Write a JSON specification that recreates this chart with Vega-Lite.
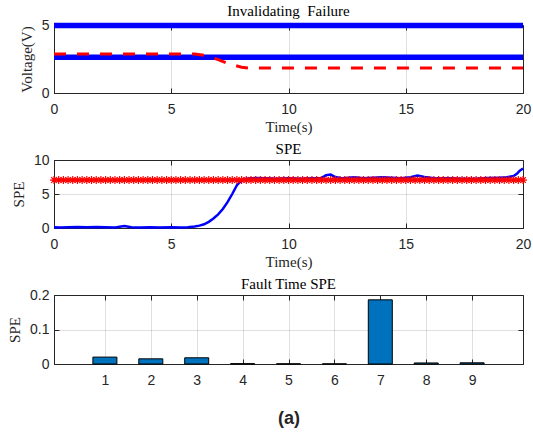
{
  "$schema": "https://vega.github.io/schema/vega-lite/v6.json",
  "background": "white",
  "padding": {"left": 7, "top": 3, "right": 2, "bottom": 2},
  "bounds": "flush",
  "spacing": 67,
  "datasets": {
    "volt_blue": [
      {"t": 0, "v": 4.96, "s": "a"}, {"t": 20, "v": 4.96, "s": "a"},
      {"t": 0, "v": 2.62, "s": "b"}, {"t": 20, "v": 2.62, "s": "b"}
    ],
    "volt_red": [
      {"t": 0, "v": 2.87}, {"t": 6.0, "v": 2.87}, {"t": 6.5, "v": 2.75}, {"t": 7.0, "v": 2.45},
      {"t": 7.5, "v": 2.12}, {"t": 8.0, "v": 1.9}, {"t": 8.3, "v": 1.84}, {"t": 20, "v": 1.84}
    ],
    "spe_blue": [
      {"t": 0, "v": 0.12}, {"t": 0.3, "v": 0.08}, {"t": 0.6, "v": 0.12}, {"t": 1.0, "v": 0.15},
      {"t": 1.4, "v": 0.1}, {"t": 1.8, "v": 0.13}, {"t": 2.2, "v": 0.1}, {"t": 2.6, "v": 0.08},
      {"t": 3.0, "v": 0.28}, {"t": 3.3, "v": 0.1}, {"t": 3.7, "v": 0.07}, {"t": 4.1, "v": 0.1},
      {"t": 4.5, "v": 0.08}, {"t": 5.0, "v": 0.1}, {"t": 5.4, "v": 0.08}, {"t": 5.7, "v": 0.12},
      {"t": 6.0, "v": 0.22}, {"t": 6.2, "v": 0.35}, {"t": 6.4, "v": 0.55}, {"t": 6.6, "v": 0.9},
      {"t": 6.8, "v": 1.4}, {"t": 7.0, "v": 2.0}, {"t": 7.2, "v": 2.8}, {"t": 7.4, "v": 3.8},
      {"t": 7.6, "v": 5.0}, {"t": 7.8, "v": 6.3}, {"t": 8.0, "v": 7.0}, {"t": 8.2, "v": 7.25},
      {"t": 8.6, "v": 7.35}, {"t": 9.0, "v": 7.3}, {"t": 9.5, "v": 7.25}, {"t": 10.0, "v": 7.3},
      {"t": 10.5, "v": 7.25}, {"t": 11.0, "v": 7.3}, {"t": 11.4, "v": 7.35}, {"t": 11.6, "v": 7.75},
      {"t": 11.8, "v": 7.85}, {"t": 12.0, "v": 7.5}, {"t": 12.3, "v": 7.3}, {"t": 12.8, "v": 7.45},
      {"t": 13.2, "v": 7.3}, {"t": 13.6, "v": 7.4}, {"t": 14.0, "v": 7.45}, {"t": 14.4, "v": 7.4},
      {"t": 14.8, "v": 7.3}, {"t": 15.2, "v": 7.45}, {"t": 15.5, "v": 7.7}, {"t": 15.8, "v": 7.5},
      {"t": 16.2, "v": 7.3}, {"t": 16.8, "v": 7.3}, {"t": 17.4, "v": 7.25}, {"t": 18.0, "v": 7.25},
      {"t": 18.5, "v": 7.35}, {"t": 19.0, "v": 7.4}, {"t": 19.3, "v": 7.45}, {"t": 19.6, "v": 7.65},
      {"t": 19.75, "v": 8.0}, {"t": 19.85, "v": 8.4}, {"t": 20, "v": 8.75}
    ],
    "spe_red": [
      {"t": 0, "v": 7.05}, {"t": 0.2, "v": 7.05}, {"t": 0.4, "v": 7.05}, {"t": 0.6, "v": 7.05}, {"t": 0.8, "v": 7.05},
      {"t": 1.0, "v": 7.05}, {"t": 1.2, "v": 7.05}, {"t": 1.4, "v": 7.05}, {"t": 1.6, "v": 7.05}, {"t": 1.8, "v": 7.05},
      {"t": 2.0, "v": 7.05}, {"t": 2.2, "v": 7.05}, {"t": 2.4, "v": 7.05}, {"t": 2.6, "v": 7.05}, {"t": 2.8, "v": 7.05},
      {"t": 3.0, "v": 7.05}, {"t": 3.2, "v": 7.05}, {"t": 3.4, "v": 7.05}, {"t": 3.6, "v": 7.05}, {"t": 3.8, "v": 7.05},
      {"t": 4.0, "v": 7.05}, {"t": 4.2, "v": 7.05}, {"t": 4.4, "v": 7.05}, {"t": 4.6, "v": 7.05}, {"t": 4.8, "v": 7.05},
      {"t": 5.0, "v": 7.05}, {"t": 5.2, "v": 7.05}, {"t": 5.4, "v": 7.05}, {"t": 5.6, "v": 7.05}, {"t": 5.8, "v": 7.05},
      {"t": 6.0, "v": 7.05}, {"t": 6.2, "v": 7.05}, {"t": 6.4, "v": 7.05}, {"t": 6.6, "v": 7.05}, {"t": 6.8, "v": 7.05},
      {"t": 7.0, "v": 7.05}, {"t": 7.2, "v": 7.05}, {"t": 7.4, "v": 7.05}, {"t": 7.6, "v": 7.05}, {"t": 7.8, "v": 7.05},
      {"t": 8.0, "v": 7.05}, {"t": 8.2, "v": 7.05}, {"t": 8.4, "v": 7.05}, {"t": 8.6, "v": 7.05}, {"t": 8.8, "v": 7.05},
      {"t": 9.0, "v": 7.05}, {"t": 9.2, "v": 7.05}, {"t": 9.4, "v": 7.05}, {"t": 9.6, "v": 7.05}, {"t": 9.8, "v": 7.05},
      {"t": 10.0, "v": 7.05}, {"t": 10.2, "v": 7.05}, {"t": 10.4, "v": 7.05}, {"t": 10.6, "v": 7.05}, {"t": 10.8, "v": 7.05},
      {"t": 11.0, "v": 7.05}, {"t": 11.2, "v": 7.05}, {"t": 11.4, "v": 7.05}, {"t": 11.6, "v": 7.05}, {"t": 11.8, "v": 7.05},
      {"t": 12.0, "v": 7.05}, {"t": 12.2, "v": 7.05}, {"t": 12.4, "v": 7.05}, {"t": 12.6, "v": 7.05}, {"t": 12.8, "v": 7.05},
      {"t": 13.0, "v": 7.05}, {"t": 13.2, "v": 7.05}, {"t": 13.4, "v": 7.05}, {"t": 13.6, "v": 7.05}, {"t": 13.8, "v": 7.05},
      {"t": 14.0, "v": 7.05}, {"t": 14.2, "v": 7.05}, {"t": 14.4, "v": 7.05}, {"t": 14.6, "v": 7.05}, {"t": 14.8, "v": 7.05},
      {"t": 15.0, "v": 7.05}, {"t": 15.2, "v": 7.05}, {"t": 15.4, "v": 7.05}, {"t": 15.6, "v": 7.05}, {"t": 15.8, "v": 7.05},
      {"t": 16.0, "v": 7.05}, {"t": 16.2, "v": 7.05}, {"t": 16.4, "v": 7.05}, {"t": 16.6, "v": 7.05}, {"t": 16.8, "v": 7.05},
      {"t": 17.0, "v": 7.05}, {"t": 17.2, "v": 7.05}, {"t": 17.4, "v": 7.05}, {"t": 17.6, "v": 7.05}, {"t": 17.8, "v": 7.05},
      {"t": 18.0, "v": 7.05}, {"t": 18.2, "v": 7.05}, {"t": 18.4, "v": 7.05}, {"t": 18.6, "v": 7.05}, {"t": 18.8, "v": 7.05},
      {"t": 19.0, "v": 7.05}, {"t": 19.2, "v": 7.05}, {"t": 19.4, "v": 7.05}, {"t": 19.6, "v": 7.05}, {"t": 19.8, "v": 7.05},
      {"t": 20.0, "v": 7.05}
    ],
    "bars": [
      {"k": 1, "v": 0.020}, {"k": 2, "v": 0.015}, {"k": 3, "v": 0.018},
      {"k": 4, "v": 0.001}, {"k": 5, "v": 0.0005}, {"k": 6, "v": 0.0004},
      {"k": 7, "v": 0.186}, {"k": 8, "v": 0.003}, {"k": 9, "v": 0.0035}
    ]
  },
  "vconcat": [
    {
      "width": 469, "height": 68,
      "title": {"text": "Invalidating\u00a0 Failure"},
      "resolve": {"axis": {"x": "independent", "y": "independent"}},
      "layer": [
        {
          "data": {"name": "volt_blue"},
          "mark": {"type": "line", "color": "#0000ff", "strokeWidth": 5.5},
          "encoding": {
            "x": {"field": "t", "type": "quantitative", "scale": {"domain": [0, 20], "nice": false},
                  "axis": {"orient": "bottom", "values": [0, 5, 10, 15, 20], "title": "Time(s)"}},
            "y": {"field": "v", "type": "quantitative", "scale": {"domain": [0, 5], "nice": false},
                  "axis": {"orient": "left", "values": [0, 5], "title": "Voltage(V)"}},
            "detail": {"field": "s"}
          }
        },
        {
          "data": {"name": "volt_red"},
          "mark": {"type": "line", "color": "#ff0000", "strokeWidth": 3, "strokeDash": [12, 11]},
          "encoding": {
            "x": {"field": "t", "type": "quantitative",
                  "axis": {"orient": "top", "values": [0, 5, 10, 15, 20], "labels": false, "title": null, "grid": false, "domain": false}},
            "y": {"field": "v", "type": "quantitative",
                  "axis": {"orient": "right", "values": [0, 5], "labels": false, "title": null, "grid": false, "domain": false}}
          }
        }
      ]
    },
    {
      "width": 469, "height": 68,
      "title": {"text": "SPE"},
      "resolve": {"axis": {"x": "independent", "y": "independent"}},
      "layer": [
        {
          "data": {"name": "spe_blue"},
          "mark": {"type": "line", "color": "#0000ff", "strokeWidth": 2.5},
          "encoding": {
            "x": {"field": "t", "type": "quantitative", "scale": {"domain": [0, 20], "nice": false},
                  "axis": {"orient": "bottom", "values": [0, 5, 10, 15, 20], "title": "Time(s)"}},
            "y": {"field": "v", "type": "quantitative", "scale": {"domain": [0, 10], "nice": false},
                  "axis": {"orient": "left", "values": [0, 5, 10], "title": "SPE"}}
          }
        },
        {
          "data": {"name": "spe_red"},
          "mark": {"type": "line", "color": "#ff0000", "strokeWidth": 1.5},
          "encoding": {
            "x": {"field": "t", "type": "quantitative",
                  "axis": {"orient": "top", "values": [0, 5, 10, 15, 20], "labels": false, "title": null, "grid": false, "domain": false}},
            "y": {"field": "v", "type": "quantitative",
                  "axis": {"orient": "right", "values": [0, 5, 10], "labels": false, "title": null, "grid": false, "domain": false}}
          }
        },
        {
          "data": {"name": "spe_red"},
          "mark": {"type": "point", "shape": "M-1,0L1,0M0,-1L0,1M-0.7,-0.7L0.7,0.7M-0.7,0.7L0.7,-0.7",
                   "filled": false, "stroke": "#ff0000", "strokeWidth": 1.2, "size": 64, "opacity": 1},
          "encoding": {
            "x": {"field": "t", "type": "quantitative", "axis": null},
            "y": {"field": "v", "type": "quantitative", "axis": null}
          }
        }
      ]
    },
    {
      "width": 469, "height": 69,
      "title": {"text": "Fault Time SPE"},
      "resolve": {"axis": {"x": "independent", "y": "independent"}},
      "layer": [
        {
          "data": {"name": "bars"},
          "mark": {"type": "bar", "size": 24, "color": "#0072BD", "stroke": "#000000", "strokeWidth": 1},
          "encoding": {
            "x": {"field": "k", "type": "quantitative", "scale": {"domain": [0, 10], "nice": false},
                  "axis": {"orient": "bottom", "values": [1, 2, 3, 4, 5, 6, 7, 8, 9], "title": "(a)",
                           "titleFont": "Liberation Sans", "titleFontWeight": "bold", "titleFontSize": 18, "titlePadding": 22}},
            "y": {"field": "v", "type": "quantitative", "scale": {"domain": [0, 0.2], "nice": false},
                  "axis": {"orient": "left", "values": [0, 0.1, 0.2], "format": "~g", "title": "SPE"}}
          }
        },
        {
          "data": {"name": "bars"},
          "mark": {"type": "bar", "size": 24, "color": "#0072BD", "stroke": "#000000", "strokeWidth": 1, "opacity": 0},
          "encoding": {
            "x": {"field": "k", "type": "quantitative",
                  "axis": {"orient": "top", "values": [1, 2, 3, 4, 5, 6, 7, 8, 9], "labels": false, "title": null, "grid": false, "domain": false}},
            "y": {"field": "v", "type": "quantitative",
                  "axis": {"orient": "right", "values": [0, 0.1, 0.2], "labels": false, "title": null, "grid": false, "domain": false}}
          }
        }
      ]
    }
  ],
  "config": {
    "view": {"stroke": "#262626", "strokeWidth": 1},
    "axis": {
      "labelFont": "Liberation Sans", "labelFontSize": 14, "labelColor": "#262626",
      "titleFont": "Liberation Serif", "titleFontSize": 15, "titleFontWeight": "normal", "titleColor": "#262626",
      "domainColor": "#262626", "tickColor": "#262626", "tickSize": -5,
      "gridColor": "#262626", "gridOpacity": 0.15, "zindex": 1,
      "labelFlush": false, "labelOverlap": false
    },
    "axisX": {"labelPadding": 14, "titlePadding": 3},
    "axisY": {"labelPadding": 10, "titlePadding": 7},
    "title": {"font": "Liberation Serif", "fontSize": 15, "fontWeight": "normal", "color": "#000000", "offset": -4, "frame": "group"}
  }
}
